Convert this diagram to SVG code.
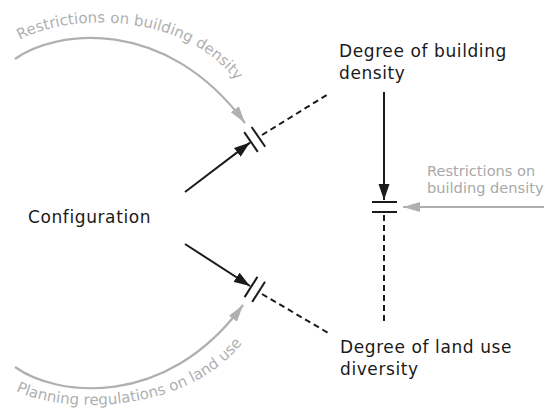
<svg xmlns="http://www.w3.org/2000/svg" width="544" height="410" viewBox="0 0 544 410">
<style>
.lbl{font-family:"DejaVu Sans",sans-serif;font-size:17px;fill:#1a1a1a;letter-spacing:0.6px}
.glbl{font-family:"DejaVu Sans",sans-serif;font-size:14.6px;fill:#a9a9a9}
.arc{font-family:"DejaVu Sans",sans-serif;font-size:15px;fill:#b0b0b0}
.blk{stroke:#1a1a1a;stroke-width:2;fill:none}
.dash{stroke:#1a1a1a;stroke-width:2;fill:none;stroke-dasharray:6,4}
.gry{stroke:#b0b0b0;stroke-width:2.2;fill:none}
</style>
<defs>
<marker id="ab" markerUnits="userSpaceOnUse" markerWidth="17" markerHeight="12" refX="16" refY="6" orient="auto"><path d="M0,0.5 L16,6 L0,11.5 z" fill="#1a1a1a"/></marker>
<marker id="ag" markerUnits="userSpaceOnUse" markerWidth="18" markerHeight="12" refX="17" refY="6" orient="auto"><path d="M0,1 L17,6 L0,11 z" fill="#b0b0b0"/></marker>
<path id="tp1" d="M20,40 C65,14 185,8 240,86"/>
<path id="tp2" d="M16,391 C62,414 190,416 246,338"/>
</defs>
<g id="connectors">
<path class="gry" d="M15,59 C55,30 165,15 245,123" marker-end="url(#ag)"/>
<path class="gry" d="M15,367 C55,396 165,411 243,305" marker-end="url(#ag)"/>
<line class="gry" x1="544" y1="207" x2="403" y2="207" marker-end="url(#ag)"/>
<line class="blk" x1="185" y1="192" x2="250" y2="142.6" marker-end="url(#ab)"/>
<line class="blk" x1="185" y1="244" x2="250" y2="286" marker-end="url(#ab)"/>
<line class="blk" x1="384" y1="92" x2="384" y2="200" marker-end="url(#ab)"/>
<line class="blk" x1="244.2" y1="132.1" x2="257.8" y2="151.9"/>
<line class="blk" x1="251.6" y1="127" x2="265.2" y2="146.8"/>
<line class="blk" x1="244.6" y1="297.1" x2="257.4" y2="276.9"/>
<line class="blk" x1="252.2" y1="301.9" x2="265" y2="281.7"/>
<line class="blk" x1="372" y1="202" x2="397" y2="202"/>
<line class="blk" x1="372" y1="212" x2="397" y2="212"/>
<line class="dash" x1="262" y1="135" x2="330" y2="93"/>
<line class="dash" x1="262" y1="294" x2="330" y2="334"/>
<line class="dash" x1="384" y1="215" x2="384" y2="323"/>
<text class="arc"><textPath href="#tp1">Restrictions on building density</textPath></text>
<text class="arc"><textPath href="#tp2">Planning regulations on land use</textPath></text>
</g>
<g id="configuration"><text class="lbl" x="28" y="223">Configuration</text></g>
<g id="building-density"><text class="lbl" x="339" y="57">Degree of building</text><text class="lbl" x="339" y="79">density</text></g>
<g id="land-use-diversity"><text class="lbl" x="340" y="353">Degree of land use</text><text class="lbl" x="340" y="375">diversity</text></g>
<g id="restrictions"><text class="glbl" x="427" y="176">Restrictions on</text><text class="glbl" x="427" y="193">building density</text></g>
</svg>
